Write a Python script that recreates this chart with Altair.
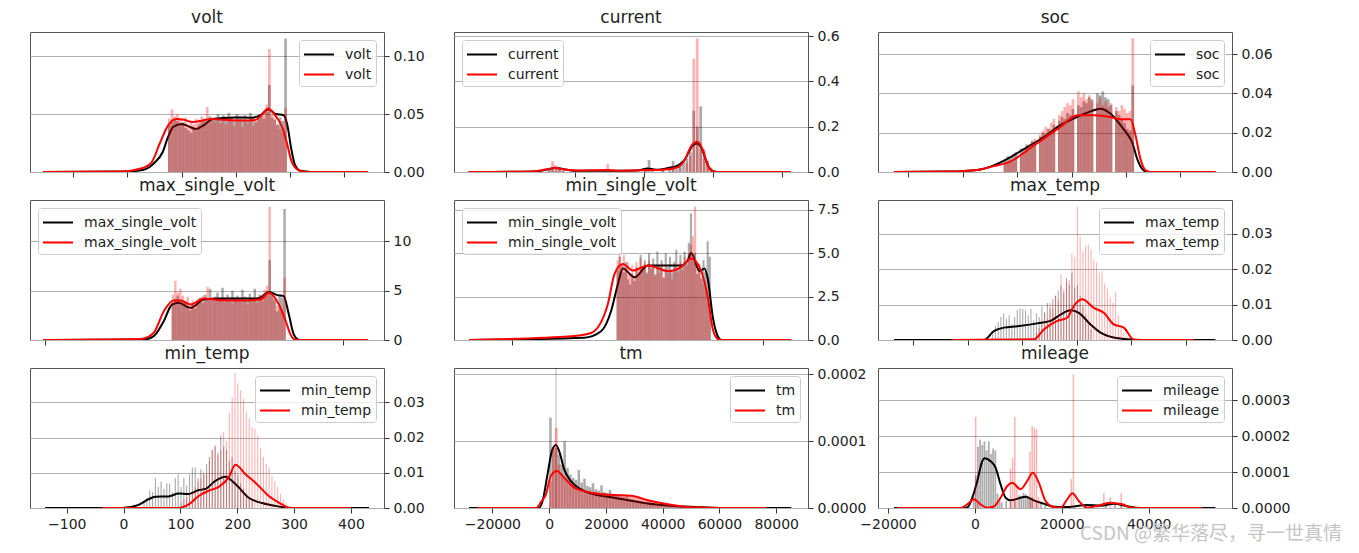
import altair as alt
import pandas as pd

FONT = "DejaVu Sans"
WATERMARK = "CSDN @繁华落尽，寻一世真情"

# ---------------- volt ----------------
volt_bin_start, volt_bin_w = 377.5, 0.5
volt_gray = [0.040, 0.043, 0.045, 0.044, 0.041, 0.043, 0.038, 0.036, 0.034, 0.039,
             0.036, 0.041, 0.044, 0.046, 0.043, 0.048, 0.045, 0.047, 0.050, 0.046,
             0.049, 0.045, 0.051, 0.047, 0.044, 0.050, 0.048, 0.046, 0.049, 0.045,
             0.051, 0.047, 0.043, 0.048, 0.050, 0.046, 0.052, 0.075, 0.047, 0.045,
             0.041, 0.047, 0.044, 0.115]
volt_red = [0.046, 0.054, 0.048, 0.050, 0.045, 0.042, 0.047, 0.040, 0.044, 0.041,
            0.046, 0.043, 0.048, 0.045, 0.056, 0.044, 0.047, 0.043, 0.046, 0.042,
            0.045, 0.041, 0.047, 0.044, 0.040, 0.046, 0.043, 0.039, 0.045, 0.042,
            0.047, 0.040, 0.044, 0.046, 0.049, 0.052, 0.058, 0.106, 0.050, 0.046,
            0.040, 0.037, 0.034, 0.055]
volt_kde_kx = [354.4, 370, 373, 375, 376.5, 377.5, 378.5, 380, 381.5, 382.6, 384, 385.7, 387.5,
               390, 393, 394.6, 396.1, 397.4, 398.9, 399.6, 400.3, 401, 402, 404, 414.5]
volt_kde_ky = [0, 0.0005, 0.002, 0.008, 0.017, 0.03, 0.039, 0.0414, 0.039, 0.037, 0.040, 0.0456, 0.0465,
               0.047, 0.0468, 0.049, 0.054, 0.050, 0.049, 0.040, 0.020, 0.006, 0.001, 0, 0]
volt_kde_rx = [354.4, 369, 372.5, 374.5, 376, 377.5, 379, 380.5, 382, 384, 385.5, 388, 391, 393.5,
               395, 396, 397.5, 398.5, 399.5, 400.3, 401.5, 403, 414.5]
volt_kde_ry = [0, 0.0005, 0.003, 0.0086, 0.025, 0.040, 0.0457, 0.045, 0.0431, 0.0445, 0.0457, 0.045,
               0.0445, 0.0447, 0.050, 0.0548, 0.0478, 0.040, 0.025, 0.010, 0.002, 0, 0]

# ---------------- current ----------------
cur_gray_x = [-48, -47, -46, -45, -44, -40, -35, -30, -25, -20, -19, -18, -15, -13, -12, -11, -10,
              -9, -8, -7, -6, -5, -4, -3, -2, -1]
cur_gray_h = [0.010, 0.018, 0.022, 0.015, 0.008, 0.005, 0.006, 0.006, 0.007, 0.012, 0.053, 0.014,
              0.010, 0.020, 0.048, 0.025, 0.030, 0.045, 0.06, 0.09, 0.27, 0.20, 0.29, 0.10, 0.05, 0.02]
cur_red_x = [-48, -47, -46, -45, -44, -40, -35, -31, -30, -25, -20, -15, -12, -10, -8, -7, -6, -5,
             -4, -3, -2, -1]
cur_red_h = [0.012, 0.048, 0.030, 0.012, 0.006, 0.004, 0.006, 0.036, 0.006, 0.006, 0.010, 0.008,
             0.015, 0.020, 0.04, 0.07, 0.50, 0.59, 0.10, 0.06, 0.03, 0.01]
cur_kde_kx = [-71, -55, -50, -47, -46, -44, -40, -30, -22, -19, -16, -13, -11, -9.4, -8, -7, -6,
              -4.7, -3.5, -2.6, -1.8, -1, 0, 2, 22.6]
cur_kde_ky = [0, 0.001, 0.006, 0.015, 0.019, 0.014, 0.006, 0.005, 0.007, 0.015, 0.010, 0.018, 0.024,
              0.037, 0.06, 0.09, 0.115, 0.126, 0.11, 0.075, 0.04, 0.015, 0.004, 0, 0]
cur_kde_rx = [-71, -55, -50, -47, -46, -44, -40, -31, -28, -20, -15, -11, -9.4, -8, -7, -6, -4.7,
              -3.5, -2.6, -1.8, -1, 0, 2, 22.6]
cur_kde_ry = [0, 0.001, 0.007, 0.016, 0.019, 0.013, 0.007, 0.009, 0.006, 0.008, 0.010, 0.018, 0.03,
              0.06, 0.095, 0.122, 0.133, 0.115, 0.08, 0.04, 0.015, 0.004, 0, 0]

# ---------------- soc ----------------
soc_bin_start, soc_bin_w = 35, 1
soc_gray = [0.006, 0.008, 0.007, 0.009, 0.010, 0, 0.012, 0.011, 0.014, 0.013,
            0.016, 0.015, 0, 0.018, 0.020, 0.019, 0.022, 0.021, 0.024, 0,
            0.026, 0.028, 0.027, 0.030, 0.029, 0.032, 0, 0.034, 0.033, 0.036,
            0.035, 0.038, 0.037, 0, 0.040, 0.039, 0.041, 0.038, 0.037, 0.034,
            0, 0.031, 0.029, 0.027, 0.025, 0.022, 0.021, 0.044]
soc_red = [0.004, 0.005, 0.006, 0.005, 0.007, 0, 0.009, 0.010, 0.012, 0.014,
           0.015, 0.017, 0, 0.019, 0.021, 0.023, 0.022, 0.025, 0.027, 0,
           0.029, 0.031, 0.033, 0.035, 0.034, 0.037, 0, 0.041, 0.038, 0.040,
           0.037, 0.039, 0.036, 0, 0.035, 0.038, 0.034, 0.036, 0.033, 0.035,
           0, 0.033, 0.031, 0.034, 0.032, 0.030, 0.031, 0.068]
soc_kde_kx = [-5.3, 15, 25.3, 31.4, 37.6, 43.7, 49.8, 55.9, 62.1, 68.2, 70.6, 74.3, 78, 80.4, 82.3,
              84.1, 85.9, 87.8, 112.9]
soc_kde_ky = [0, 0.0002, 0.001, 0.0034, 0.0076, 0.0127, 0.0178, 0.0238, 0.028, 0.0314, 0.0322,
              0.0297, 0.0238, 0.0195, 0.015, 0.0068, 0.0017, 0, 0]
soc_kde_rx = [-5.3, 15, 25.3, 31.4, 37.6, 43.7, 49.8, 55.9, 62.1, 68.2, 74.3, 78, 81.7, 83.5, 85.3,
              87.1, 88.9, 112.9]
soc_kde_ry = [0, 0.0002, 0.001, 0.003, 0.0054, 0.011, 0.017, 0.0229, 0.0289, 0.0289, 0.028, 0.0268,
              0.0268, 0.0187, 0.0068, 0.001, 0, 0]

# ---------------- max_single_volt ----------------
msv_bin_start, msv_bin_w = 3.955, 0.005
msv_gray = [3.8, 4.2, 4.5, 4.1, 3.9, 4.0, 3.3, 3.0, 3.6, 3.2,
            3.9, 4.3, 3.8, 4.6, 4.1, 5.2, 4.0, 4.4, 4.8, 4.1,
            5.3, 4.2, 4.6, 3.9, 5.0, 4.3, 4.5, 4.1, 5.1, 4.4,
            4.0, 4.7, 4.2, 5.2, 4.3, 4.6, 4.0, 4.4, 4.9, 8.1,
            4.5, 4.2, 2.9, 4.6, 4.3, 13.3]
msv_red = [4.6, 6.0, 4.8, 5.2, 4.5, 3.9, 4.4, 3.4, 4.0, 3.6,
           4.2, 4.0, 4.5, 3.9, 5.4, 4.1, 4.3, 3.9, 4.4, 4.0,
           4.2, 3.8, 4.3, 4.0, 3.7, 4.1, 3.9, 4.2, 3.8, 4.0,
           3.6, 4.1, 3.9, 4.3, 3.8, 4.5, 4.6, 5.1, 5.5, 13.5,
           4.6, 4.0, 3.5, 3.2, 2.9, 6.3]
msv_kde_kx = [3.6966, 3.8986, 3.919, 3.939, 3.956, 3.969, 3.993, 4.02, 4.054, 4.094, 4.121, 4.134,
              4.151, 4.168, 4.181, 4.191, 4.2016, 4.212, 4.35]
msv_kde_ky = [0, 0.05, 0.4, 1.9, 3.6, 3.77, 3.26, 4.1, 4.2, 4.2, 4.2, 4.3, 4.88, 4.55, 4.45, 2.6,
              0.5, 0, 0]
msv_kde_rx = [3.6966, 3.892, 3.919, 3.939, 3.959, 3.973, 3.993, 4.02, 4.054, 4.094, 4.134, 4.151,
              4.171, 4.185, 4.195, 4.205, 4.35]
msv_kde_ry = [0, 0.1, 0.74, 2.9, 4.0, 4.0, 3.6, 4.2, 4.04, 4.0, 4.1, 4.78, 3.6, 1.9, 0.5, 0, 0]

# ---------------- min_single_volt ----------------
nsv_bin_start, nsv_bin_w = 3.850, 0.005
nsv_gray = [4.0, 4.8, 4.3, 3.9, 4.5, 3.5, 3.2, 3.8, 3.4, 4.2,
            3.7, 4.9, 4.1, 4.6, 3.9, 5.0, 4.2, 4.7, 3.8, 5.1,
            4.3, 4.6, 3.6, 5.0, 4.2, 4.8, 3.9, 4.5, 5.2, 4.1,
            4.9, 4.3, 5.1, 4.4, 5.6, 7.3, 4.6, 5.0, 3.8, 4.4,
            3.6, 4.6, 3.9, 5.7, 4.8]
nsv_red = [4.6, 5.0, 4.4, 4.9, 4.2, 4.5, 3.8, 4.3, 3.6, 4.5,
           4.0, 4.7, 4.2, 4.4, 3.8, 4.6, 4.1, 4.3, 3.7, 4.2,
           3.9, 4.4, 3.6, 4.1, 3.8, 4.0, 3.5, 4.2, 4.4, 3.9,
           4.5, 4.0, 4.8, 4.3, 5.0, 5.5, 6.0, 7.7, 4.4, 3.9,
           3.5, 3.2, 3.0, 2.6, 2.0]
nsv_kde_kx = [3.498, 3.773, 3.813, 3.837, 3.853, 3.865, 3.893, 3.925, 3.965, 4.004, 4.02, 4.028,
              4.048, 4.06, 4.068, 4.08, 4.092, 4.1, 4.267]
nsv_kde_ky = [0, 0.13, 0.5, 1.67, 3.2, 4.12, 3.62, 4.3, 4.3, 4.3, 4.6, 5.02, 3.97, 4.12, 3.5, 1.28,
              0.2, 0, 0]
nsv_kde_rx = [3.498, 3.749, 3.789, 3.829, 3.845, 3.865, 3.889, 3.925, 3.973, 4.004, 4.028, 4.052,
              4.068, 4.08, 4.092, 4.1, 4.267]
nsv_kde_ry = [0, 0.23, 0.4, 2.05, 3.8, 4.38, 4.0, 4.3, 3.97, 4.2, 4.7, 3.97, 2.43, 0.6, 0.05, 0, 0]

# ---------------- max_temp ----------------
maxt_gray_start, maxt_red_start, maxt_step = 45, 125, 5
maxt_gray = [0.002, 0.004, 0.005, 0.0065, 0.0075, 0.006, 0.007, 0.0045, 0.0065, 0.0085,
             0.009, 0.0088, 0.0085, 0.007, 0.0088, 0.0055, 0.0075, 0.0065, 0.0095, 0.008,
             0.0105, 0.009, 0.0115, 0.0125, 0.014, 0.0155, 0.0135, 0.0176, 0.0158, 0.019,
             0.0148, 0.0155, 0.0125, 0.0095, 0.007, 0.005, 0.003]
maxt_red = [0.002, 0.0035, 0.0045, 0.0075, 0.006, 0.0105, 0.009, 0.0125, 0.011, 0.0185,
            0.0145, 0.0165, 0.017, 0.0245, 0.0235, 0.0377, 0.0295, 0.025, 0.0265, 0.027,
            0.0255, 0.0225, 0.022, 0.019, 0.0195, 0.016, 0.0145, 0.012, 0.0105, 0.0135,
            0.007, 0.004, 0.002, 0.001]
maxt_kde_kx = [-134.7, 29.8, 48.1, 66.4, 90.9, 127.5, 151.8, 170.1, 188.4, 203.6, 225, 243.3,
               267.6, 292.1, 320, 453.6]
maxt_kde_ky = [0, 0, 0.0025, 0.0035, 0.0039, 0.0047, 0.0054, 0.0072, 0.0084, 0.0077, 0.0044,
               0.0021, 0.0007, 0.0002, 0, 0]
maxt_kde_rx = [-28, 121.3, 139.6, 164.1, 182.4, 194.4, 209.8, 231, 249.3, 267.6, 285.9, 304.2,
               320, 414]
maxt_kde_ry = [0, 0.0002, 0.003, 0.0054, 0.0063, 0.0096, 0.0115, 0.0091, 0.0077, 0.0044, 0.0035,
               0.0001, 0, 0]

# ---------------- min_temp ----------------
mint_gray_start, mint_red_start, mint_step = 35, 100, 5
mint_gray = [0.002, 0.003, 0.005, 0.0045, 0.0085, 0.006, 0.0075, 0.0055, 0.007, 0.007,
             0.0045, 0.0085, 0.0095, 0.006, 0.0085, 0.0065, 0.0095, 0.0115, 0.0115, 0.0085,
             0.011, 0.0095, 0.0125, 0.0145, 0.0165, 0.0175, 0.0158, 0.0206, 0.0175, 0.0165,
             0.0135, 0.0145, 0.0105, 0.0095, 0.007, 0.0055, 0.004, 0.003, 0.002]
mint_red = [0.0015, 0.0025, 0.003, 0.004, 0.0045, 0.006, 0.0075, 0.0085, 0.0105, 0.0095,
            0.0135, 0.0165, 0.018, 0.015, 0.0165, 0.0215, 0.019, 0.027, 0.0315, 0.0384,
            0.0355, 0.0335, 0.031, 0.0275, 0.0255, 0.023, 0.0225, 0.0206, 0.017, 0.0145,
            0.0125, 0.0115, 0.009, 0.0075, 0.006, 0.004, 0.0025, 0.0015]
mint_kde_kx = [-138, -3, 26.4, 44, 55.7, 79.3, 96.9, 114.5, 132.2, 143.8, 161.4, 179, 196.7, 220.3,
               243.7, 267.1, 290.7, 310, 431.7]
mint_kde_ky = [0, 0, 0.0009, 0.0025, 0.0032, 0.0033, 0.0041, 0.004, 0.0051, 0.0054, 0.0077, 0.0089,
               0.0068, 0.0029, 0.0014, 0.0006, 0.0001, 0, 0]
mint_kde_rx = [-38.2, 96.9, 114.5, 132.2, 149.8, 167.4, 185, 196.7, 214.3, 231.9, 255.5, 279, 290.7,
               399.3]
mint_kde_ry = [0, 0, 0.001, 0.0034, 0.0049, 0.006, 0.0087, 0.0123, 0.0096, 0.0072, 0.0034, 0.001,
               0, 0]

# ---------------- tm ----------------
tm_bin_start, tm_bin_w = 0, 1000
tm_gray = [0.000135, 0.00009, 0.00009, 0.00008, 0.000065, 0.0001, 0.00006, 0.00005, 0.000045, 0.000042,
           0.000057, 0.000038, 0.000044, 0.000033, 0.000031, 0.000037, 0.000028, 0.000026, 0.000034, 0.000024,
           0.000022, 0.000027, 0.00002, 0.000019, 0.000021, 0.000017, 0.000016, 0.000018, 0.000014, 0.000013,
           0.000012, 0.000011, 0.00001, 0.000009, 0.000008, 0.0000075, 0.000007, 0.000006, 0.0000055, 0.000005,
           0.0000045, 0.000004, 0.0000035, 0.000003, 0.0000025, 0.000002, 0.0000018, 0.0000015, 0.0000012, 0.000001]
tm_spike_x = [2250]
tm_spike_h = [0.00025]
tm_red = [0.00004, 0.00009, 0.00012, 0.000065, 0.00005, 0.000045, 0.000042, 0.000038, 0.000036, 0.000033,
          0.00003, 0.000029, 0.000027, 0.000026, 0.000025, 0.000024, 0.000023, 0.000023, 0.000022, 0.000022,
          0.000021, 0.000021, 0.00002, 0.00002, 0.00002, 0.000019, 0.000019, 0.000019, 0.000018, 0.000018,
          0.000017, 0.000016, 0.000015, 0.000014, 0.000013, 0.000012, 0.000011, 0.00001, 0.000009, 0.000008,
          0.000007, 0.000006, 0.000005, 0.000004, 0.0000035, 0.000003, 0.0000025, 0.000002, 0.0000015, 0.000001]
tm_kde_kx = [-28232, -3529, -2329, -565, 953, 2365, 3529, 5294, 7658, 11187, 15881, 22938, 29997,
             37055, 44113, 51170, 60000, 85300]
tm_kde_ky = [0, 0, 0.0000104, 0.0000503, 0.000085, 0.000094, 0.000085, 0.0000577, 0.00004, 0.0000279,
             0.0000204, 0.0000154, 0.00001, 0.0000055, 0.000003, 0.0000015, 0, 0]
tm_kde_rx = [-25268, -4500, -2929, -1165, 600, 2717, 5294, 8823, 14705, 22938, 28821, 34704, 41763,
             48820, 55880, 62000, 76470]
tm_kde_ry = [0, 0, 0.0000087, 0.00002, 0.0000478, 0.0000552, 0.0000452, 0.0000303, 0.0000229,
             0.0000194, 0.0000184, 0.0000115, 0.0000055, 0.0000015, 0.0000005, 0, 0]

# ---------------- mileage ----------------
mil_gray_x = [-500, 0, 500, 1000, 1500, 2000, 2500, 3000, 3500, 4000, 4500, 5000, 5500, 6000, 7000,
              8000, 9000, 10000, 10500, 11000, 11500, 12000, 12500, 13000, 14000, 15000, 16000, 18000,
              22000, 25000, 26500, 28000, 30000, 32000, 33500, 35000]
mil_gray_h = [0.00003, 0.00009, 0.00017, 0.00019, 0.000175, 0.000185, 0.00016, 0.000185, 0.00015,
              0.000165, 0.00016, 0.00004, 0.00002, 0.000015, 0.00002, 0.000018, 0.00002, 0.000035,
              0.00003, 0.000042, 0.000038, 0.00003, 0.000025, 0.00003, 0.00002, 0.000015, 0.00001,
              0.000005, 0.000004, 0.000008, 0.00001, 0.000006, 0.000008, 0.00001, 0.000012, 0.000004]
mil_red_x = [0, 500, 8000, 8500, 9000, 9500, 12500, 13000, 13500, 14000, 14500, 22000, 22500, 29500,
             31000, 33500]
mil_red_h = [0.000253, 0.00002, 0.00011, 0.000139, 0.000253, 0.00006, 0.000156, 0.000228, 0.000222,
             0.000219, 0.00003, 0.00008, 0.000371, 0.0000417, 0.00003, 0.0000417]
mil_kde_kx = [-18620, -3500, -1750, -600, 550, 1700, 2230, 3610, 4760, 5910, 7060, 8210, 10510, 11660,
              13560, 15860, 18160, 21240, 25840, 28900, 31960, 35030, 38000, 55340]
mil_kde_ky = [0, 0, 0.0000015, 0.0000286, 0.000075, 0.00013, 0.000138, 0.00013, 0.000112, 0.0000658,
              0.0000286, 0.0000213, 0.0000286, 0.0000314, 0.0000213, 0.0000121, 0.0000037, 0.000003,
              0.0000083, 0.0000065, 0.0000121, 0.0000047, 0, 0]
mil_kde_rx = [-17840, -3290, -1750, -230, 1310, 2850, 4370, 5910, 7450, 8600, 10510, 12040, 13340,
              14710, 16250, 17790, 19700, 21240, 22460, 23910, 25840, 28900, 31200, 33890, 36190,
              38500, 52280]
mil_kde_ry = [0, 0, 0.0000102, 0.0000241, 0.0000102, 0.000001, 0.000004, 0.0000286, 0.0000611,
              0.0000703, 0.000052, 0.000075, 0.000098, 0.0000703, 0.0000194, 0.000004, 0.0000005,
              0.0000241, 0.0000408, 0.0000194, 0.000001, 0.0000083, 0.0000148, 0.0000102, 0.000001,
              0, 0]


# ---------------- helpers ----------------
def uniform_starts(start, step, n):
    return [start + i * step for i in range(n)]


def bars(starts, heights, w):
    return pd.DataFrame({"x0": starts, "x1": [s + w for s in starts], "h": heights})


def kde(xs, ys, s):
    return pd.DataFrame({"x": xs, "y": ys, "s": [s] * len(xs)})


PW, PH = 354, 140


def panel(name, gray, red, kx, ky, rx, ry, xdom, xticks, show_x, ydom, yticks, yfmt,
          leg_orient, title_offset=5, extra=None):
    xs = alt.Scale(domain=xdom, nice=False, zero=False)
    ys = alt.Scale(domain=ydom, nice=False, zero=True)
    xaxis = alt.Axis(values=xticks, labels=show_x, format="d", title=None, grid=False)
    yaxis = alt.Axis(orient="right", values=yticks, format=yfmt, title=None, grid=True)
    cs = alt.Scale(domain=["k", "r"], range=["black", "red"])
    leg = alt.Legend(title=None, orient=leg_orient, labelExpr="'%s'" % name)

    gb = alt.Chart(gray).mark_rect(color="black", opacity=0.33, clip=True).encode(
        x=alt.X("x0:Q", scale=xs, axis=xaxis), x2="x1:Q",
        y=alt.Y("h:Q", scale=ys, axis=yaxis), y2=alt.datum(0))
    rb = alt.Chart(red).mark_rect(color="red", opacity=0.3, clip=True).encode(
        x=alt.X("x0:Q", scale=xs, axis=xaxis), x2="x1:Q",
        y=alt.Y("h:Q", scale=ys, axis=yaxis), y2=alt.datum(0))
    kl = alt.Chart(kde(kx, ky, "k")).mark_line(strokeWidth=2, clip=True, interpolate="monotone").encode(
        x=alt.X("x:Q", scale=xs, axis=xaxis), y=alt.Y("y:Q", scale=ys, axis=yaxis),
        color=alt.Color("s:N", scale=cs, legend=leg))
    rl = alt.Chart(kde(rx, ry, "r")).mark_line(strokeWidth=2, clip=True, interpolate="monotone").encode(
        x=alt.X("x:Q", scale=xs, axis=xaxis), y=alt.Y("y:Q", scale=ys, axis=yaxis),
        color=alt.Color("s:N", scale=cs, legend=leg))
    layers = [gb, kl, rb, rl]
    if extra is not None:
        layers.append(extra)
    return alt.layer(*layers).properties(
        width=PW, height=PH,
        title=alt.TitleParams(name, fontSize=17, font=FONT, fontWeight="normal", color="#222",
                              offset=title_offset))


p_volt = panel("volt",
               bars(uniform_starts(volt_bin_start, volt_bin_w, len(volt_gray)), volt_gray, volt_bin_w),
               bars(uniform_starts(volt_bin_start, volt_bin_w, len(volt_red)), volt_red, volt_bin_w),
               volt_kde_kx, volt_kde_ky, volt_kde_rx, volt_kde_ry,
               [351.97, 417.46], [360, 370, 380, 390, 400, 410], False,
               [0, 0.1207], [0, 0.05, 0.10], ".2f", "top-right")

p_cur = panel("current", bars(cur_gray_x, cur_gray_h, 0.8), bars(cur_red_x, cur_red_h, 0.8),
              cur_kde_kx, cur_kde_ky, cur_kde_rx, cur_kde_ry,
              [-75.24, 27.56], [-60, -40, -20, 0, 20], False,
              [0, 0.618], [0, 0.2, 0.4, 0.6], ".1f", "top-left", title_offset=2)

p_soc = panel("soc",
              bars(uniform_starts(soc_bin_start, soc_bin_w, len(soc_gray)), soc_gray, soc_bin_w),
              bars(uniform_starts(soc_bin_start, soc_bin_w, len(soc_red)), soc_red, soc_bin_w),
              soc_kde_kx, soc_kde_ky, soc_kde_rx, soc_kde_ry,
              [-11.16, 118.99], [0, 20, 40, 60, 80, 100], False,
              [0, 0.0712], [0, 0.02, 0.04, 0.06], ".2f", "top-right")

p_msv = panel("max_single_volt",
              bars(uniform_starts(msv_bin_start, msv_bin_w, len(msv_gray)), msv_gray, msv_bin_w),
              bars(uniform_starts(msv_bin_start, msv_bin_w, len(msv_red)), msv_red, msv_bin_w),
              msv_kde_kx, msv_kde_ky, msv_kde_rx, msv_kde_ry,
              [3.6697, 4.3828], [3.7, 3.8, 3.9, 4.0, 4.1, 4.2, 4.3], False,
              [0, 14.2], [0, 5, 10], "d", "top-left")

p_nsv = panel("min_single_volt",
              bars(uniform_starts(nsv_bin_start, nsv_bin_w, len(nsv_gray)), nsv_gray, nsv_bin_w),
              bars(uniform_starts(nsv_bin_start, nsv_bin_w, len(nsv_red)), nsv_red, nsv_bin_w),
              nsv_kde_kx, nsv_kde_ky, nsv_kde_rx, nsv_kde_ry,
              [3.462, 4.307], [3.6, 3.8, 4.0, 4.2], False,
              [0, 8.07], [0, 2.5, 5.0, 7.5], ".1f", "top-left")

p_maxt = panel("max_temp",
               bars(uniform_starts(maxt_gray_start, maxt_step, len(maxt_gray)), maxt_gray, 2),
               bars(uniform_starts(maxt_red_start, maxt_step, len(maxt_red)), maxt_red, 2),
               maxt_kde_kx, maxt_kde_ky, maxt_kde_rx, maxt_kde_ry,
               [-164, 484], [-100, 0, 100, 200, 300, 400], False,
               [0, 0.0396], [0, 0.01, 0.02, 0.03], ".2f", "top-right")

p_mint = panel("min_temp",
               bars(uniform_starts(mint_gray_start, mint_step, len(mint_gray)), mint_gray, 2),
               bars(uniform_starts(mint_red_start, mint_step, len(mint_red)), mint_red, 2),
               mint_kde_kx, mint_kde_ky, mint_kde_rx, mint_kde_ry,
               [-164.6, 458.1], [-100, 0, 100, 200, 300, 400], True,
               [0, 0.0398], [0, 0.01, 0.02, 0.03], ".2f", "top-right")

tm_gray_df = pd.concat([
    bars(uniform_starts(tm_bin_start, tm_bin_w, len(tm_gray)), tm_gray, 900),
    bars(tm_spike_x, tm_spike_h, 300),
], ignore_index=True)

p_tm = panel("tm", tm_gray_df,
             bars(uniform_starts(tm_bin_start, tm_bin_w, len(tm_red)), tm_red, 1000),
             tm_kde_kx, tm_kde_ky, tm_kde_rx, tm_kde_ry,
             [-33530, 91200], [-20000, 0, 20000, 40000, 60000, 80000], True,
             [0, 0.000209], [0, 0.0001, 0.0002], ".4f", "top-right", title_offset=4)

watermark = alt.Chart(pd.DataFrame({"t": [WATERMARK]})).mark_text(
    align="right", baseline="middle", font="Noto Sans CJK SC", fontSize=19, color="#c4c4c4"
).encode(x=alt.value(464), y=alt.value(166), text="t:N")

p_mil = panel("mileage", bars(mil_gray_x, mil_gray_h, 400), bars(mil_red_x, mil_red_h, 350),
              mil_kde_kx, mil_kde_ky, mil_kde_rx, mil_kde_ry,
              [-22300, 59170], [-20000, 0, 20000, 40000], True,
              [0, 0.000389], [0, 0.0001, 0.0002, 0.0003], ".4f", "top-right", extra=watermark)

chart = alt.concat(
    p_volt, p_cur, p_soc,
    p_msv, p_nsv, p_maxt,
    p_mint, p_tm, p_mil,
    columns=3, spacing={"row": 28, "column": 70}, bounds="flush",
).resolve_scale(color="independent").resolve_legend(color="independent").properties(
    padding={"left": 21, "top": 0, "right": 0, "bottom": 0},
    background="white",
).configure_view(
    stroke="#555555", strokeWidth=1
).configure_axis(
    labelFont=FONT, labelFontSize=14, labelColor="#222222", tickColor="#333333",
    tickSize=5, domain=False, labelPadding=4, gridColor="#b0b0b0", gridWidth=1,
).configure_legend(
    labelFont=FONT, labelFontSize=14, labelColor="#222222", padding=4, rowPadding=2,
    fillColor="rgba(255,255,255,0.8)", strokeColor="#cccccc", cornerRadius=3, offset=8,
    symbolType="M-1,0H2.16", symbolSize=361, symbolStrokeWidth=2, labelOffset=21,
)

chart.save("out.html", embed_options={"renderer": "svg", "actions": False})
